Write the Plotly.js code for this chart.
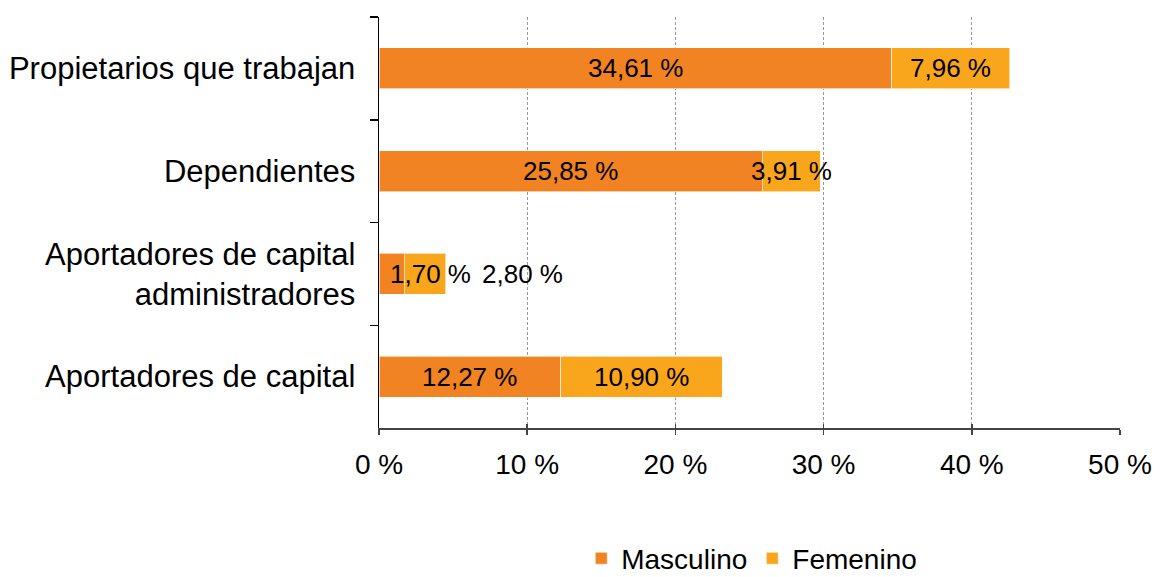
<!DOCTYPE html>
<html>
<head>
<meta charset="utf-8">
<script src="https://cdn.plot.ly/plotly-3.0.1.min.js"></script>
<style>html,body{margin:0;padding:0;background:#fff;}#chart{width:1161px;height:577px;}</style>
</head>
<body>
<div id="chart"></div>
<script>
const categories = ["Propietarios que trabajan", "Dependientes", "Aportadores de capital<br>administradores", "Aportadores de capital"];
const masculino = [34.61, 25.85, 1.70, 12.27];
const femenino = [7.96, 3.91, 2.80, 10.90];
const seriesNames = ["Masculino", "Femenino"];
const xTickVals = [0, 10, 20, 30, 40, 50];

const colM = "#F28322";
const colF = "#F9A61D";
const font = "Liberation Sans, Arial, sans-serif";

function fmt(v){ return v.toFixed(2).replace(".", ",") + " %"; }

const traces = [
  {type:"bar", orientation:"h", name:seriesNames[0], y:categories, x:masculino,
   marker:{color:colM, line:{color:"rgba(255,255,255,0.6)", width:1}}, hoverinfo:"none"},
  {type:"bar", orientation:"h", name:seriesNames[1], y:categories, x:femenino,
   marker:{color:colF, line:{color:"rgba(255,255,255,0.6)", width:1}}, hoverinfo:"none"},
  {type:"bar", orientation:"h", y:[categories[0]], x:[0], xaxis:"x2", showlegend:false, hoverinfo:"none"}
];

// label offsets for the tiny segments (style only)
const shiftM = [0, 0, 39, 0];
const shiftF = [0, 0, 98, 0];
const annotations = [];
categories.forEach((c, i) => {
  annotations.push({x: masculino[i]/2, y:c, xref:"x", yref:"y", text:fmt(masculino[i]), showarrow:false,
    xshift: shiftM[i], font:{family:font, size:26, color:"#000"}});
  annotations.push({x: masculino[i] + femenino[i]/2, y:c, xref:"x", yref:"y", text:fmt(femenino[i]), showarrow:false,
    xshift: shiftF[i], font:{family:font, size:26, color:"#000"}});
});

const layout = {
  width:1161, height:577,
  margin:{l:379, r:41, t:17, b:149},
  paper_bgcolor:"#fff", plot_bgcolor:"#fff",
  barmode:"stack", bargap:0.6,
  font:{family:font, size:28, color:"#000"},
  showlegend:true,
  legend:{orientation:"h", traceorder:"normal", x:0.503, xanchor:"center",
          yref:"container", y:0.032, yanchor:"middle",
          font:{family:font, size:28, color:"#000"}, itemwidth:30, tracegroupgap:0},
  xaxis:{range:[0,50], tickvals:xTickVals, ticktext:xTickVals.map(v=>v+" %"),
         showgrid:true, gridcolor:"#9a9a9a", griddash:"3px,2px", gridwidth:1,
         showline:true, linecolor:"#444", linewidth:1.5,
         ticks:"outside", ticklen:5, tickcolor:"#444", tickwidth:1.5,
         zeroline:false, fixedrange:true, ticklabelstandoff:6,
         tickfont:{family:font, size:28, color:"#000"}},
  xaxis2:{overlaying:"x", matches:"x", side:"bottom", anchor:"y", range:[0,50], tickvals:xTickVals,
          showticklabels:false, showgrid:false, showline:false, zeroline:false,
          ticks:"inside", ticklen:4, tickcolor:"#444", tickwidth:1.5},
  yaxis:{autorange:"reversed", type:"category", tickson:"boundaries",
         ticks:"outside", ticklen:8, tickcolor:"#000", tickwidth:1.5,
         showline:true, linecolor:"#000", linewidth:1.5, showgrid:false, zeroline:false,
         ticklabelstandoff:16,
         tickfont:{family:font, size:31, color:"#000"}},
  annotations: annotations
};

Plotly.newPlot("chart", traces, layout, {displayModeBar:false, staticPlot:true});
</script>
</body>
</html>
